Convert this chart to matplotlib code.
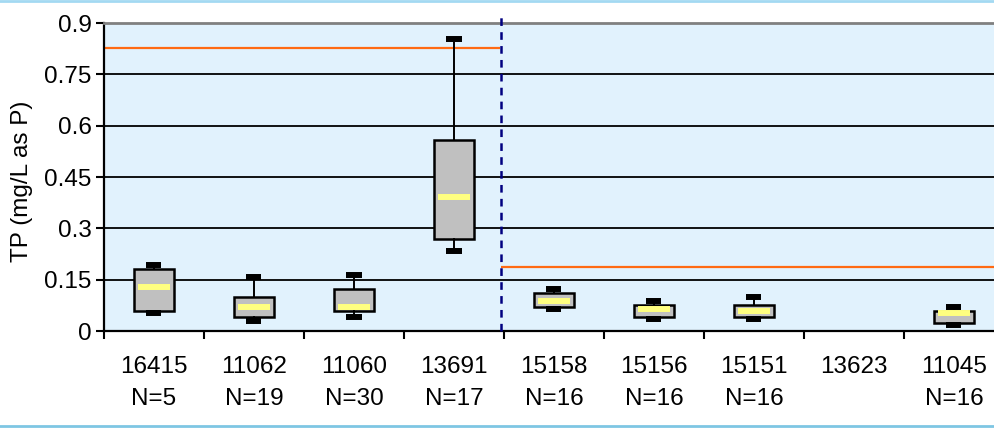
import numpy as np
import matplotlib
matplotlib.use('Agg')
import matplotlib.pyplot as plt
from matplotlib.lines import Line2D

plt.rcParams['font.family'] = ['Liberation Sans', 'DejaVu Sans']
plt.rcParams['font.size'] = 17.5
plt.rcParams['lines.scale_dashes'] = False

# sites along the x axis and sample counts ('' where no data)
sites = ['16415', '11062', '11060', '13691', '15158', '15156', '15151', '13623', '11045']
counts = ['5', '19', '30', '17', '16', '16', '16', '', '16']

# box statistics (mg/L as P), None where the site has no box
whis_lo = [0.052, 0.030, 0.042, 0.234, 0.064, 0.034, 0.035, None, 0.017]
q1      = [0.058, 0.042, 0.058, 0.269, 0.071, 0.041, 0.041, None, 0.023]
median  = [0.129, 0.071, 0.071, 0.392, 0.089, 0.064, 0.059, None, 0.053]
q3      = [0.181, 0.100, 0.123, 0.558, 0.112, 0.076, 0.075, None, 0.059]
whis_hi = [0.193, 0.159, 0.163, 0.853, 0.122, 0.089, 0.100, None, 0.071]

# criteria lines: value and the category span they cover
crit_vals = [0.827, 0.188]
crit_from = [-0.5, 3.47]
crit_to = [3.46, 8.41]
divider = 3.47

fig = plt.figure(figsize=(9.95, 4.29), dpi=100)
ax = fig.add_axes([104 / 995, 98 / 429, 891 / 995, 308 / 429])
ax.set_facecolor('#E1F2FD')

pos = [i for i in range(len(sites)) if median[i] is not None]
stats = [dict(med=median[i], q1=q1[i], q3=q3[i], whislo=whis_lo[i],
              whishi=whis_hi[i], fliers=[]) for i in pos]

ax.bxp(stats, positions=pos, widths=0.4, capwidths=0.15, patch_artist=True,
       showfliers=False,
       boxprops=dict(facecolor='#C0C0C0', edgecolor='black', linewidth=1.8),
       whiskerprops=dict(color='black', linewidth=1.4),
       capprops=dict(color='black', linewidth=4.3, solid_capstyle='butt'),
       medianprops=dict(linewidth=0), zorder=3)

ax.hlines([median[i] for i in pos], [p - 0.16 for p in pos], [p + 0.16 for p in pos],
          color='#FFFF80', linewidth=4.3, zorder=4)

ax.hlines(crit_vals, crit_from, crit_to, color='#FF6A13', linewidth=1.6, zorder=2)
ax.plot([divider, divider], [0, 0.923], color='#000080', linewidth=1.8,
        dashes=(5.5, 4.5), clip_on=False, zorder=5)

ax.set_xlim(-0.5, 8.41)
ax.set_ylim(0, 0.9)
yt = [0, 0.15, 0.3, 0.45, 0.6, 0.75, 0.9]
ax.set_yticks(yt)
ax.set_yticklabels(['0', '0.15', '0.3', '0.45', '0.6', '0.75', '0.9'])
ax.set_xticks(np.arange(-0.5, 8.5, 1.0))
ax.set_xticklabels([])
ax.set_xticks(range(len(sites)), minor=True)
ax.set_xticklabels([s + '\n' + ('N=' + c if c else '') for s, c in zip(sites, counts)],
                   minor=True, linespacing=1.58)
ax.tick_params(axis='x', which='minor', length=0, pad=18)
ax.tick_params(axis='x', which='major', length=6, width=1.5, direction='out')
ax.tick_params(axis='y', length=6, width=1.5, direction='out', pad=3)

ax.grid(axis='y', color='black', linewidth=1.3)
ax.set_axisbelow(True)
ax.spines['right'].set_visible(False)
ax.spines['top'].set_color('#808080')
ax.spines['top'].set_linewidth(2)
ax.spines['left'].set_linewidth(1.6)
ax.spines['bottom'].set_linewidth(1.6)

ax.set_ylabel('TP (mg/L as P)')
ax.yaxis.set_label_coords(-0.08, 0.485)

fig.add_artist(Line2D([0, 1], [0.998, 0.998], color='#A3D9F2', linewidth=2, transform=fig.transFigure))
fig.add_artist(Line2D([0, 1], [0.006, 0.006], color='#7EC6E3', linewidth=2, transform=fig.transFigure))

fig.savefig('out.png', dpi=100)
